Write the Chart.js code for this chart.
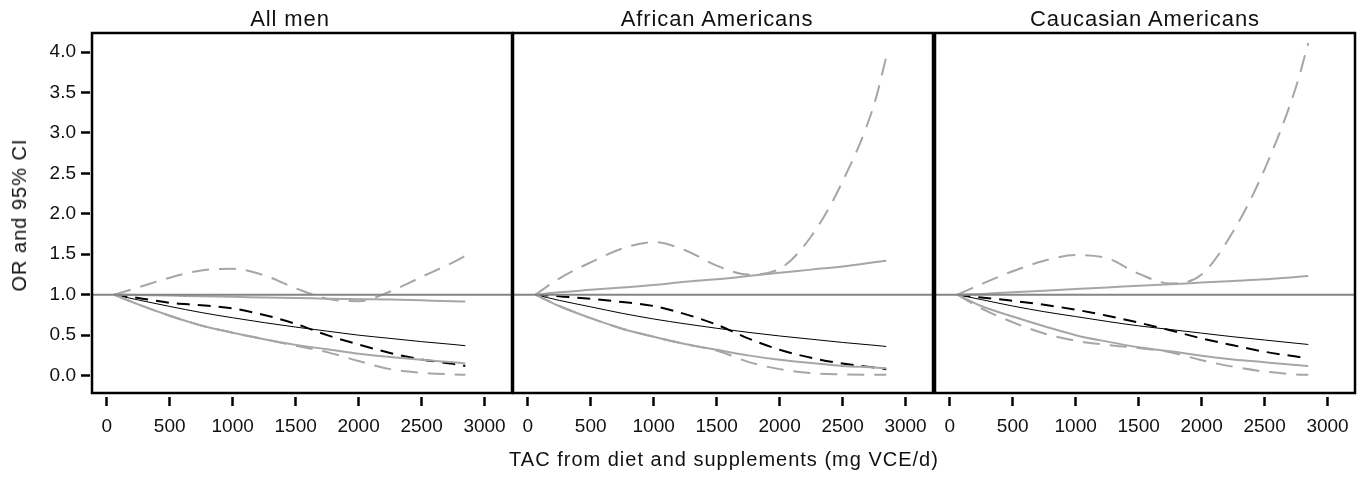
<!DOCTYPE html>
<html>
<head>
<meta charset="utf-8">
<script src="https://cdn.jsdelivr.net/npm/chart.js@4.4.1/dist/chart.umd.min.js"></script>
<style>
    body { margin: 0; background: #fff; }
    #wrap { position: relative; width: 1367px; height: 479px; font-family: "Liberation Sans", Arial, sans-serif; color: #111; }
    #wrap canvas { position: absolute; left: 0; top: 0; }
    .lbl { position: absolute; white-space: nowrap; line-height: 1; transform: translate(-50%, -50%); }
    .ttl { font-size: 22px; letter-spacing: 0.9px; }
    .axt { font-size: 20px; letter-spacing: 1px; }
</style>
</head>
<body>
<div id="wrap">
    <canvas id="c1" width="1367" height="479"></canvas>
    <canvas id="c2" width="1367" height="479"></canvas>
    <canvas id="c3" width="1367" height="479"></canvas>
    <div class="lbl ttl" style="left:290px; top:19px;">All men</div>
    <div class="lbl ttl" style="left:717px; top:19px;">African Americans</div>
    <div class="lbl ttl" style="left:1145px; top:19px;">Caucasian Americans</div>
    <div class="lbl axt" style="left:19px; top:215px; transform: translate(-50%, -50%) rotate(-90deg);">OR and 95% CI</div>
    <div class="lbl axt" style="left:724px; top:459px;">TAC from diet and supplements (mg VCE/d)</div>
</div>
<script>
// axis setup
const xMin = -117, xMax = 3218;
const yMin = -0.215, yMax = 4.235;
const xTicks = [0, 500, 1000, 1500, 2000, 2500, 3000];
const yTicks = [0, 0.5, 1, 1.5, 2, 2.5, 3, 3.5, 4];

// TAC values where the curves were read
const tac = [61, 250, 500, 750, 1000, 1250, 1500, 1750, 2000, 2250, 2500, 2750, 2847];

// reference line OR = 1
const refX = [xMin, xMax];
const refY = [1, 1];

// All men
const allLinOR = [1.00, 0.935, 0.855, 0.78, 0.715, 0.655, 0.60, 0.55, 0.50, 0.46, 0.42, 0.385, 0.37];
const allLinLo = [1.00, 0.88, 0.74, 0.62, 0.53, 0.45, 0.38, 0.325, 0.27, 0.23, 0.195, 0.165, 0.15];
const allLinHi = [1.00, 0.995, 0.99, 0.98, 0.975, 0.965, 0.96, 0.95, 0.945, 0.94, 0.93, 0.92, 0.915];
const allSplOR = [1.00, 0.96, 0.90, 0.87, 0.83, 0.75, 0.64, 0.50, 0.385, 0.28, 0.20, 0.145, 0.12];
const allSplLo = [1.00, 0.88, 0.74, 0.62, 0.53, 0.45, 0.37, 0.29, 0.18, 0.08, 0.035, 0.015, 0.01];
const allSplHi = [1.00, 1.09, 1.21, 1.30, 1.32, 1.24, 1.08, 0.95, 0.92, 1.04, 1.22, 1.40, 1.48];

// African Americans
const afrLinOR = [1.00, 0.93, 0.85, 0.77, 0.70, 0.64, 0.585, 0.535, 0.49, 0.45, 0.41, 0.375, 0.36];
const afrLinLo = [1.00, 0.86, 0.71, 0.58, 0.48, 0.39, 0.32, 0.25, 0.195, 0.155, 0.12, 0.10, 0.09];
const afrLinHi = [1.00, 1.03, 1.06, 1.09, 1.12, 1.16, 1.19, 1.23, 1.27, 1.31, 1.35, 1.40, 1.42];
const afrSplOR = [1.00, 0.98, 0.95, 0.91, 0.86, 0.76, 0.63, 0.46, 0.32, 0.22, 0.15, 0.10, 0.08];
const afrSplLo = [1.00, 0.86, 0.71, 0.58, 0.48, 0.39, 0.31, 0.17, 0.08, 0.03, 0.015, 0.01, 0.01];
const afrSplHi = [1.00, 1.20, 1.40, 1.57, 1.65, 1.55, 1.36, 1.25, 1.32, 1.72, 2.40, 3.35, 3.94];

// Caucasian Americans
const cauLinOR = [1.00, 0.94, 0.86, 0.79, 0.73, 0.67, 0.615, 0.57, 0.525, 0.48, 0.44, 0.40, 0.385];
const cauLinLo = [1.00, 0.86, 0.73, 0.61, 0.50, 0.42, 0.35, 0.30, 0.245, 0.20, 0.165, 0.13, 0.12];
const cauLinHi = [1.00, 1.01, 1.03, 1.05, 1.07, 1.09, 1.11, 1.13, 1.15, 1.17, 1.19, 1.22, 1.23];
const cauSplOR = [1.00, 0.965, 0.925, 0.875, 0.815, 0.74, 0.655, 0.56, 0.46, 0.375, 0.295, 0.235, 0.21];
const cauSplLo = [1.00, 0.83, 0.66, 0.52, 0.43, 0.38, 0.34, 0.29, 0.19, 0.11, 0.05, 0.015, 0.01];
const cauSplHi = [1.00, 1.13, 1.29, 1.42, 1.49, 1.45, 1.26, 1.14, 1.25, 1.78, 2.55, 3.57, 4.11];

const GREY = '#a6a6a6';
const REF = '#858585';

Chart.defaults.font.family = '"Liberation Sans", Arial, sans-serif';
Chart.defaults.color = '#111';

function pts(xs, ys) {
    return xs.map((x, i) => ({ x: x, y: ys[i] }));
}

function line(xs, ys, color, width, dash) {
    return {
        data: pts(xs, ys),
        borderColor: color,
        borderWidth: width,
        borderDash: dash || [],
        pointRadius: 0,
        cubicInterpolationMode: 'monotone',
        fill: false
    };
}

// black box round each panel
const framePlugin = {
    id: 'frame',
    afterDraw(chart) {
        const { ctx, chartArea: a } = chart;
        ctx.save();
        ctx.strokeStyle = '#000';
        ctx.lineWidth = 2.5;
        ctx.strokeRect(a.left, a.top, a.right - a.left, a.bottom - a.top);
        ctx.restore();
    }
};

function makePanel(id, left, right, showY, series) {
    const ctx = document.getElementById(id).getContext('2d');
    const datasets = [
        line(refX, refY, REF, 2),
        line(tac, series.linHi, GREY, 2),
        line(tac, series.linLo, GREY, 2),
        line(tac, series.splHi, GREY, 2, [17, 10]),
        line(tac, series.splLo, GREY, 2, [17, 10]),
        line(tac, series.linOR, '#000', 1),
        line(tac, series.splOR, '#000', 2, [13, 8])
    ];

    return new Chart(ctx, {
        type: 'line',
        data: { datasets: datasets },
        options: {
            responsive: false,
            animation: false,
            devicePixelRatio: 1,
            layout: { padding: { left: left, right: 1367 - right, top: 33, bottom: 0 } },
            plugins: { legend: { display: false }, tooltip: { enabled: false } },
            scales: {
                x: {
                    type: 'linear',
                    min: xMin,
                    max: xMax,
                    border: { display: false },
                    grid: {
                        drawOnChartArea: false,
                        tickLength: 13,
                        tickWidth: 2.5,
                        tickColor: '#000',
                        tickBorderDash: [9, 4],
                        tickBorderDashOffset: 9
                    },
                    ticks: { font: { size: 19 }, padding: 9, maxRotation: 0, autoSkip: false, callback: v => String(v) },
                    afterBuildTicks: s => { s.ticks = xTicks.map(v => ({ value: v })); },
                    afterFit: s => { s.height = 86; }
                },
                y: {
                    type: 'linear',
                    display: showY,
                    min: yMin,
                    max: yMax,
                    border: { display: false },
                    grid: {
                        drawOnChartArea: false,
                        tickLength: 11,
                        tickWidth: 2.5,
                        tickColor: '#000',
                        tickBorderDash: [9, 10]
                    },
                    ticks: { font: { size: 19 }, padding: 5, callback: v => v.toFixed(1) },
                    afterBuildTicks: s => { s.ticks = yTicks.map(v => ({ value: v })); },
                    afterFit: s => { if (showY) s.width = 92; }
                }
            }
        },
        plugins: [framePlugin]
    });
}

makePanel('c1', 0, 512, true, {
    linOR: allLinOR, linLo: allLinLo, linHi: allLinHi,
    splOR: allSplOR, splLo: allSplLo, splHi: allSplHi
});
makePanel('c2', 513, 933, false, {
    linOR: afrLinOR, linLo: afrLinLo, linHi: afrLinHi,
    splOR: afrSplOR, splLo: afrSplLo, splHi: afrSplHi
});
makePanel('c3', 935, 1355, false, {
    linOR: cauLinOR, linLo: cauLinLo, linHi: cauLinHi,
    splOR: cauSplOR, splLo: cauSplLo, splHi: cauSplHi
});
</script>
</body>
</html>
